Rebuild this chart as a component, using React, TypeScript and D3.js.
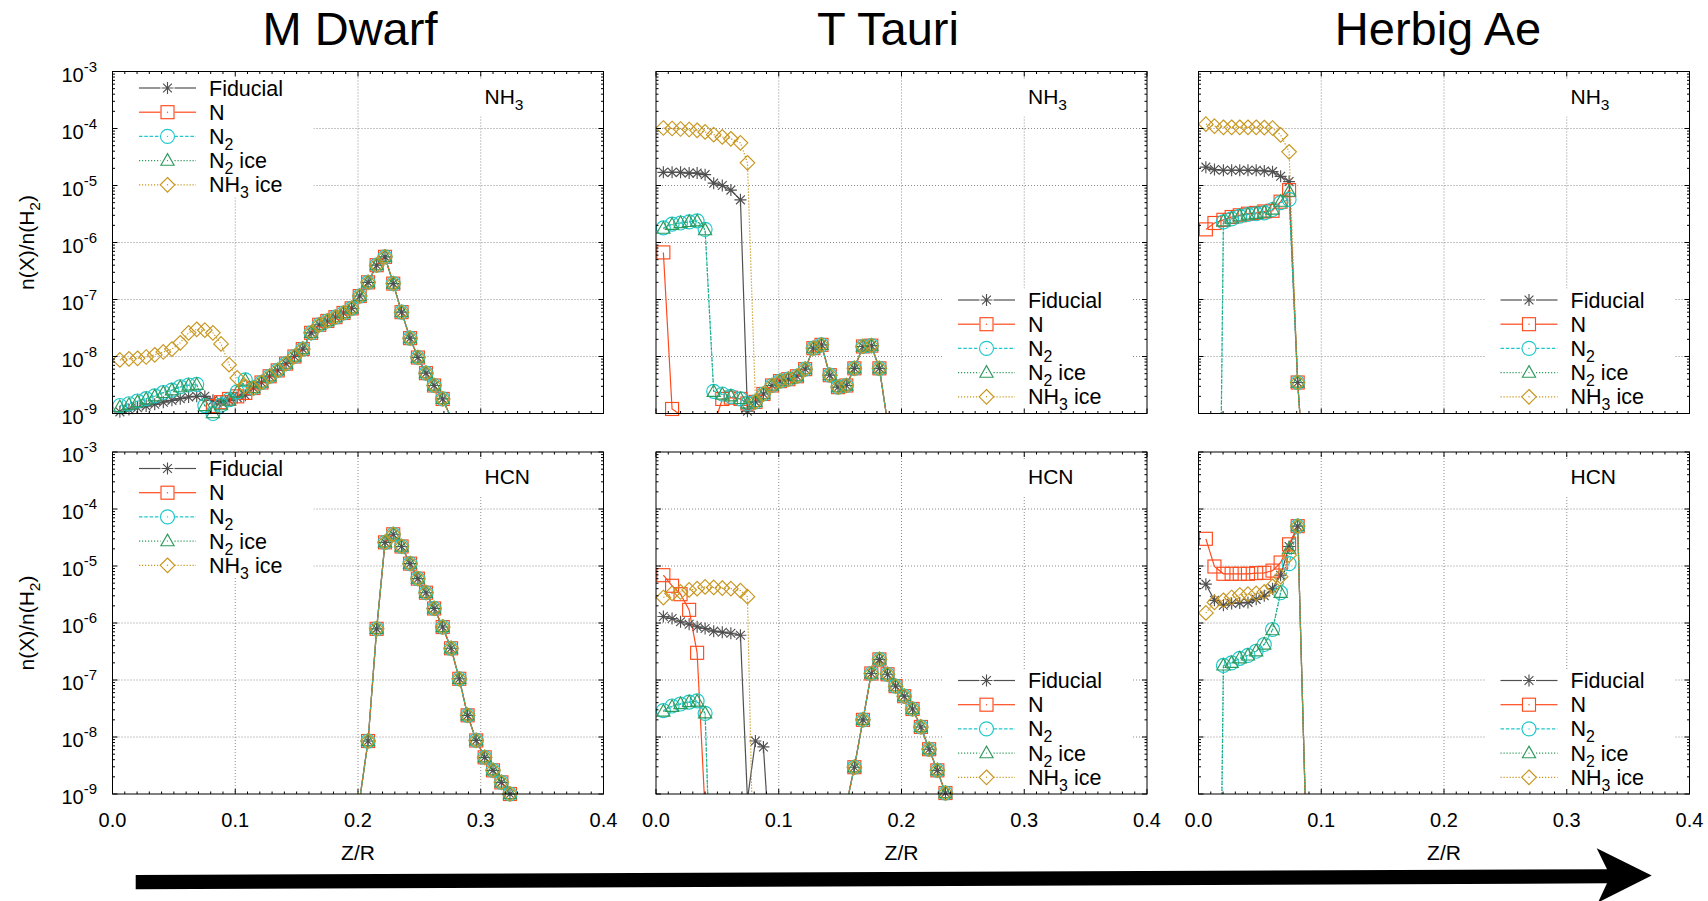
import React from "react";
import * as d3 from "d3";

// ---------------- DATA ----------------
const titles = ["M Dwarf", "T Tauri", "Herbig Ae"];
const seriesNames = ["Fiducial", "N", "N2", "N2 ice", "NH3 ice"];
const xTicks = [0, 0.1, 0.2, 0.3, 0.4];
const xTickLabels = ["0.0", "0.1", "0.2", "0.3", "0.4"];
const yExps = [-3, -4, -5, -6, -7, -8, -9];

// Z/R grids of the three models
const mdZ = [0.006, 0.0134, 0.0204, 0.0274, 0.0344, 0.0414, 0.0484, 0.0552, 0.062, 0.0686, 0.0752, 0.0818, 0.0884, 0.095, 0.1016, 0.1082, 0.1148, 0.1214, 0.128, 0.1346, 0.1414, 0.1482, 0.155, 0.1618, 0.1684, 0.175, 0.1816, 0.1882, 0.1948, 0.2014, 0.2082, 0.2152, 0.222, 0.2287, 0.2355, 0.2424, 0.2488, 0.2554, 0.262, 0.269, 0.2758, 0.2825, 0.2893, 0.2963, 0.3032, 0.31, 0.3168, 0.3238, 0.3305];
const ttZ = [0.006, 0.0131, 0.02, 0.027, 0.0335, 0.04, 0.047, 0.054, 0.061, 0.0688, 0.0745, 0.081, 0.0875, 0.0945, 0.101, 0.1078, 0.1148, 0.1215, 0.1282, 0.1348, 0.1416, 0.1483, 0.155, 0.1616, 0.1686, 0.1754, 0.182, 0.1886, 0.1952, 0.2022, 0.209, 0.2158, 0.2225, 0.2292, 0.2358, 0.2425];
const haZ = [0.006, 0.013, 0.0203, 0.027, 0.0336, 0.0403, 0.047, 0.0536, 0.0603, 0.0669, 0.0738, 0.0808, 0.0875];

// M Dwarf NH3 (first 16 points per series, then shared curve)
const mdNH3Common = [2.8e-9, 3.5e-9, 4.5e-9, 5.7e-9, 7.5e-9, 1.0e-8, 1.35e-8, 2.6e-8, 3.6e-8, 4.2e-8, 4.9e-8, 5.8e-8, 7.0e-8, 1.15e-7, 2.0e-7, 4.0e-7, 5.6e-7, 1.9e-7, 6.0e-8, 2.1e-8, 9.6e-9, 5.1e-9, 3.1e-9, 1.8e-9, 8.3e-10];
const mdNH3FidPre = [1.07e-9, 1.17e-9, 1.26e-9, 1.35e-9, 1.45e-9, 1.58e-9, 1.7e-9, 1.82e-9, 1.95e-9, 2.0e-9, 2.0e-9, 1.7e-9, 1.6e-9, 1.7e-9, 1.9e-9, 2.1e-9];
const mdNH3NPre = [null, null, null, null, null, null, null, null, null, null, 7e-10, 1.35e-9, 1.58e-9, 1.8e-9, 2.0e-9, 2.3e-9];
const mdNH3N2Pre = [1.38e-9, 1.48e-9, 1.66e-9, 1.82e-9, 2.04e-9, 2.34e-9, 2.57e-9, 2.95e-9, 3.16e-9, 3.24e-9, 1.38e-9, 1.0e-9, 1.4e-9, 1.74e-9, 2.4e-9, 3.9e-9];
const mdNH3N2icePre = [1.3e-9, 1.42e-9, 1.6e-9, 1.78e-9, 2.0e-9, 2.3e-9, 2.55e-9, 2.9e-9, 3.1e-9, 3.2e-9, 1.35e-9, 1.02e-9, 1.4e-9, 1.7e-9, 2.35e-9, 3.8e-9];
const mdNH3IcePre = [8.7e-9, 9.1e-9, 9.3e-9, 9.8e-9, 1.07e-8, 1.2e-8, 1.35e-8, 1.74e-8, 2.6e-8, 3.0e-8, 2.9e-8, 2.6e-8, 1.66e-8, 7.2e-9, 4.2e-9, 3.0e-9];

// M Dwarf HCN (all five runs coincide), starting at grid index 29
const mdHCNStart = 29;
const mdHCNPeak = [8e-10, 8.5e-9, 7.9e-7, 2.6e-5, 3.6e-5, 2.2e-5, 1.1e-5, 6.0e-6, 3.4e-6, 1.8e-6, 8.5e-7, 3.6e-7, 1.05e-7, 2.4e-8, 8.7e-9, 4.4e-9, 2.6e-9, 1.6e-9, 1.0e-9, 6e-10];

// T Tauri NH3 (first 11 points per series, then shared curve)
const ttNH3Common = [1.6e-9, 2.2e-9, 3.1e-9, 3.7e-9, 4.0e-9, 4.5e-9, 6.0e-9, 1.4e-8, 1.6e-8, 4.7e-9, 2.9e-9, 3.1e-9, 6.2e-9, 1.5e-8, 1.55e-8, 6.2e-9, 7e-10];
const ttNH3FidPre = [1.7e-5, 1.7e-5, 1.7e-5, 1.65e-5, 1.65e-5, 1.55e-5, 1.1e-5, 1.0e-5, 8.3e-6, 5.6e-6, 1.1e-9];
const ttNH3NPre = [6.7e-7, 1.2e-9, 9.5e-10, 5e-10, 4e-10, 4e-10, 6e-10, 1.8e-9, 1.9e-9, 1.8e-9, 1.5e-9];
const ttNH3N2Pre = [1.8e-6, 2.1e-6, 2.2e-6, 2.3e-6, 2.4e-6, 1.7e-6, 2.45e-9, 2.2e-9, 2.0e-9, 1.8e-9, 1.5e-9];
const ttNH3N2icePre = [1.75e-6, 2.05e-6, 2.2e-6, 2.3e-6, 2.35e-6, 1.65e-6, 2.4e-9, 2.15e-9, 2.0e-9, 1.8e-9, 1.5e-9];
const ttNH3IcePre = [1.02e-4, 1.0e-4, 9.8e-5, 9.6e-5, 9.3e-5, 8.7e-5, 7.8e-5, 7.1e-5, 6.6e-5, 5.6e-5, 2.5e-5];

// T Tauri HCN (inner points per series, shared curve from grid index 22)
const ttHCNCommonStart = 22;
const ttHCNCommon = [6.3e-10, 2.95e-9, 2.0e-8, 1.3e-7, 2.3e-7, 1.26e-7, 7.8e-8, 5.2e-8, 3.1e-8, 1.5e-8, 6.1e-9, 2.6e-9, 1.04e-9, 3e-10];
const ttHCNFidPre = [1.3e-6, 1.2e-6, 1.05e-6, 9.5e-7, 8.6e-7, 8.0e-7, 7.2e-7, 6.9e-7, 6.6e-7, 6.1e-7, 8e-10, 8.5e-9, 6.7e-9, 3e-11];
const ttHCNNPre = [6.9e-6, 4.5e-6, 3.2e-6, 1.7e-6, 3.0e-7, 5e-10];
const ttHCNN2Pre = [2.9e-8, 3.5e-8, 3.8e-8, 4.1e-8, 4.3e-8, 2.6e-8, 5e-13];
const ttHCNN2icePre = [2.8e-8, 3.4e-8, 3.8e-8, 4.1e-8, 4.2e-8, 2.6e-8, 5e-13];
const ttHCNIcePre = [2.8e-6, 3.3e-6, 3.5e-6, 3.8e-6, 4.0e-6, 4.3e-6, 4.2e-6, 4.1e-6, 4.0e-6, 3.7e-6, 2.9e-6, 1e-12];

// Herbig Ae NH3
const haNH3Fid = [2.1e-5, 1.9e-5, 1.85e-5, 1.85e-5, 1.85e-5, 1.85e-5, 1.85e-5, 1.8e-5, 1.75e-5, 1.45e-5, 1.17e-5, 3.5e-9, 3e-11];
const haNH3N = [1.7e-6, 2.2e-6, 2.5e-6, 2.8e-6, 3.0e-6, 3.2e-6, 3.3e-6, 3.5e-6, 3.6e-6, 5.2e-6, 8.3e-6, 3.5e-9, 3e-11];
const haNH3N2 = [null, 1e-20, 2.3e-6, 2.6e-6, 2.9e-6, 3.1e-6, 3.2e-6, 3.3e-6, 3.8e-6, 5.0e-6, 5.7e-6, 3.5e-9, 3e-11];
const haNH3N2ice = [null, 1e-20, 2.35e-6, 2.65e-6, 2.9e-6, 3.1e-6, 3.2e-6, 3.35e-6, 3.8e-6, 5.2e-6, 7.8e-6, 3.5e-9, 3e-11];
const haNH3Ice = [1.19e-4, 1.1e-4, 1.05e-4, 1.05e-4, 1.05e-4, 1.05e-4, 1.05e-4, 1.04e-4, 1.02e-4, 7.7e-5, 3.9e-5, 3.5e-9, 3e-11];

// Herbig Ae HCN
const haHCNFid = [4.8e-6, 2.5e-6, 2.05e-6, 2.2e-6, 2.25e-6, 2.3e-6, 2.6e-6, 3.0e-6, 4.0e-6, 6.9e-6, 2.2e-5, 5e-5, 3e-10];
const haHCNN = [3.0e-5, 9.8e-6, 7.3e-6, 7.3e-6, 7.3e-6, 7.3e-6, 7.5e-6, 7.6e-6, 8.3e-6, 1.15e-5, 2.4e-5, 5e-5, 3e-10];
const haHCNN2 = [null, 1e-20, 1.8e-7, 2.0e-7, 2.4e-7, 2.7e-7, 3.2e-7, 4.2e-7, 7.7e-7, 3.4e-6, 1.1e-5, 5e-5, 3e-10];
const haHCNN2ice = [null, 1e-20, 1.8e-7, 2.0e-7, 2.4e-7, 2.7e-7, 3.2e-7, 4.2e-7, 7.5e-7, 3.4e-6, 2.0e-5, 5e-5, 3e-10];
const haHCNIce = [1.5e-6, 2.3e-6, 2.5e-6, 2.8e-6, 3.1e-6, 3.2e-6, 3.3e-6, 3.5e-6, 4.4e-6, 6.5e-6, 1.55e-5, 5e-5, 3e-10];

// ---------------- BUILD ----------------
type V = number | null;
const gap = (n: number): V[] => new Array(n).fill(null);
const at = (start: number, vals: V[]): V[] => gap(start).concat(vals);

const mdHCN = at(mdHCNStart, mdHCNPeak);
const ttHCNTail = (pre: V[]) => pre.concat(gap(ttHCNCommonStart - pre.length), ttHCNCommon);

const FONT = "'Liberation Sans', Arial, Helvetica, sans-serif";
const W = 1708, H = 901;
const PW = 491, PH = 342;
const COLS = [112.5, 656, 1198.5];
const ROWS = [71.5, 452];

const styles = [
  { color: "#505050", dash: undefined as string | undefined, marker: "star" },
  { color: "#ff4a1c", dash: undefined, marker: "square" },
  { color: "#1ec8cc", dash: "3.5,1.8", marker: "circle" },
  { color: "#2e9a5c", dash: "1.2,1.8", marker: "triangle" },
  { color: "#c8961e", dash: "1.2,1.8", marker: "diamond" },
];

type Part = [string, boolean];
const chemParts: Record<string, Part[]> = {
  "Fiducial": [["Fiducial", false]],
  "N": [["N", false]],
  "N2": [["N", false], ["2", true]],
  "N2 ice": [["N", false], ["2", true], [" ice", false]],
  "NH3 ice": [["NH", false], ["3", true], [" ice", false]],
  "NH3": [["NH", false], ["3", true]],
  "HCN": [["HCN", false]],
  "yl": [["n(X)/n(H", false], ["2", true], [")", false]],
};

const panels = [
  { col: 0, row: 0, z: mdZ, species: "NH3", legend: "left",
    series: [mdNH3FidPre.concat(mdNH3Common), (mdNH3NPre as V[]).concat(mdNH3Common), mdNH3N2Pre.concat(mdNH3Common), mdNH3N2icePre.concat(mdNH3Common), mdNH3IcePre.concat(mdNH3Common)] },
  { col: 1, row: 0, z: ttZ, species: "NH3", legend: "right",
    series: [ttNH3FidPre.concat(ttNH3Common), ttNH3NPre.concat(ttNH3Common), ttNH3N2Pre.concat(ttNH3Common), ttNH3N2icePre.concat(ttNH3Common), ttNH3IcePre.concat(ttNH3Common)] },
  { col: 2, row: 0, z: haZ, species: "NH3", legend: "right",
    series: [haNH3Fid, haNH3N, haNH3N2, haNH3N2ice, haNH3Ice] },
  { col: 0, row: 1, z: mdZ, species: "HCN", legend: "left",
    series: [mdHCN, mdHCN, mdHCN, mdHCN, mdHCN] },
  { col: 1, row: 1, z: ttZ, species: "HCN", legend: "right",
    series: [ttHCNTail(ttHCNFidPre), ttHCNTail(ttHCNNPre), ttHCNTail(ttHCNN2Pre), ttHCNTail(ttHCNN2icePre), ttHCNTail(ttHCNIcePre)] },
  { col: 2, row: 1, z: haZ, species: "HCN", legend: "right",
    series: [haHCNFid, haHCNN, haHCNN2, haHCNN2ice, haHCNIce] },
];

// ---------------- DRAW ----------------
function Chem({ x, y, name, size, anchor, transform }: any) {
  const parts = chemParts[name] || [[name, false]];
  const sub = Math.round(size * 0.27);
  const out: any[] = [];
  let down = false;
  parts.forEach((p: Part, i: number) => {
    let dy = 0;
    if (p[1] && !down) { dy = sub; down = true; }
    else if (!p[1] && down) { dy = -sub; down = false; }
    out.push(<tspan key={i} dy={dy || undefined} fontSize={p[1] ? size * 0.74 : size}>{p[0]}</tspan>);
  });
  return <text x={x} y={y} fontSize={size} textAnchor={anchor} transform={transform} fontFamily={FONT} fill="#000">{out}</text>;
}

function Marker({ type, x, y, color }: any) {
  const c = { stroke: color, fill: "none", strokeWidth: 1.15 };
  if (type === "star")
    return <path {...c} d={`M${x - 6},${y}H${x + 6}M${x},${y - 6}V${y + 6}M${x - 4.4},${y - 4.4}L${x + 4.4},${y + 4.4}M${x - 4.4},${y + 4.4}L${x + 4.4},${y - 4.4}`} />;
  if (type === "square") return <rect {...c} x={x - 6.5} y={y - 6.5} width={13} height={13} />;
  if (type === "circle") return <circle {...c} cx={x} cy={y} r={7} />;
  if (type === "triangle") return <path {...c} d={`M${x},${y - 7}L${x + 6.6},${y + 4.6}L${x - 6.6},${y + 4.6}Z`} />;
  return <path {...c} d={`M${x},${y - 7.3}L${x + 7.3},${y}L${x},${y + 7.3}L${x - 7.3},${y}Z`} />;
}

function Panel({ p, idx }: any) {
  const x0 = COLS[p.col], y0 = ROWS[p.row];
  const xs = d3.scaleLinear().domain([0, 0.4]).range([x0, x0 + PW]);
  const ys = d3.scaleLog().domain([1e-9, 1e-3]).range([y0 + PH, y0]);
  const clipId = `clip${idx}`;
  const grid = "#8c8c8c";

  const xMinor: number[] = [];
  for (let i = 1; i < 40; i++) if (i % 10 !== 0) xMinor.push(i / 100);
  const yMinor: number[] = [];
  for (let e = -9; e < -3; e++) for (let m = 2; m <= 9; m++) yMinor.push(m * Math.pow(10, e));
  const yMajor = yExps.map((e) => Math.pow(10, e));

  const line = d3.line<any>().defined((d) => d.v != null).x((d) => xs(d.z)).y((d) => ys(d.v));

  const lx = p.legend === "left" ? x0 + 26.5 : x0 + 302;
  const ly = p.legend === "left" ? y0 + 16.5 : y0 + 228.5;
  const rowH = 24.2;

  return (
    <g>
      <defs>
        <clipPath id={clipId}><rect x={x0} y={y0} width={PW} height={PH} /></clipPath>
      </defs>
      {/* grid */}
      {[0.1, 0.2, 0.3].map((t) => (
        <line key={"gx" + t} x1={xs(t)} x2={xs(t)} y1={y0} y2={y0 + PH} stroke={grid} strokeWidth={1} strokeDasharray="1,2" />
      ))}
      {yMajor.slice(1, -1).map((t) => (
        <line key={"gy" + t} x1={x0} x2={x0 + PW} y1={ys(t)} y2={ys(t)} stroke={grid} strokeWidth={1} strokeDasharray="1,2" />
      ))}
      {/* opaque boxes */}
      <rect x={x0 + 365} y={y0 + 8} width={58} height={37} fill="#fff" />
      {p.legend === "left"
        ? <rect x={x0 + 1} y={y0 + 1} width={200} height={125} fill="#fff" />
        : <rect x={x0 + 287} y={y0 + 217} width={189} height={PH - 218} fill="#fff" />}
      {/* data */}
      <g clipPath={`url(#${clipId})`}>
        {p.series.map((vals: V[], si: number) => {
          const pts = p.z.map((z: number, i: number) => ({ z, v: i < vals.length ? vals[i] : null }));
          return <path key={"l" + si} d={line(pts) || ""} fill="none" stroke={styles[si].color} strokeWidth={1.2} strokeDasharray={styles[si].dash} />;
        })}
      </g>
      {p.series.map((vals: V[], si: number) => (
        <g key={"m" + si}>
          {p.z.map((z: number, i: number) => {
            const v = i < vals.length ? vals[i] : null;
            if (v == null || v < 0.97e-9 || v > 1e-3) return null;
            return <Marker key={i} type={styles[si].marker} x={xs(z)} y={ys(v)} color={styles[si].color} />;
          })}
        </g>
      ))}
      {/* species label */}
      <Chem x={x0 + 372} y={y0 + 32} name={p.species} size={21} anchor="start" />
      {/* legend */}
      {seriesNames.map((nm, si) => {
        const cy = ly + si * rowH;
        const sx = lx + 28.5;
        return (
          <g key={"lg" + si}>
            <line x1={lx} x2={sx - 7} y1={cy} y2={cy} stroke={styles[si].color} strokeWidth={1.2} strokeDasharray={styles[si].dash} />
            <line x1={sx + 7} x2={lx + 57} y1={cy} y2={cy} stroke={styles[si].color} strokeWidth={1.2} strokeDasharray={styles[si].dash} />
            <Marker type={styles[si].marker} x={sx} y={cy} color={styles[si].color} />
            <circle cx={sx} cy={cy} r={0.7} fill={styles[si].color} />
            <Chem x={lx + 70} y={cy + 7.5} name={nm} size={21.5} anchor="start" />
          </g>
        );
      })}
      {/* border */}
      <rect x={x0} y={y0} width={PW} height={PH} fill="none" stroke="#000" strokeWidth={1} />
      {/* ticks */}
      {xTicks.map((t) => (
        <g key={"xt" + t}>
          <line x1={xs(t)} x2={xs(t)} y1={y0 + PH} y2={y0 + PH - 5} stroke="#000" />
          <line x1={xs(t)} x2={xs(t)} y1={y0} y2={y0 + 5} stroke="#000" />
        </g>
      ))}
      {xMinor.map((t) => (
        <g key={"xm" + t}>
          <line x1={xs(t)} x2={xs(t)} y1={y0 + PH} y2={y0 + PH - 2.5} stroke="#000" />
          <line x1={xs(t)} x2={xs(t)} y1={y0} y2={y0 + 2.5} stroke="#000" />
        </g>
      ))}
      {yMajor.map((t) => (
        <g key={"yt" + t}>
          <line x1={x0} x2={x0 + 5} y1={ys(t)} y2={ys(t)} stroke="#000" />
          <line x1={x0 + PW} x2={x0 + PW - 5} y1={ys(t)} y2={ys(t)} stroke="#000" />
        </g>
      ))}
      {yMinor.map((t) => (
        <g key={"ym" + t}>
          <line x1={x0} x2={x0 + 2.5} y1={ys(t)} y2={ys(t)} stroke="#000" />
          <line x1={x0 + PW} x2={x0 + PW - 2.5} y1={ys(t)} y2={ys(t)} stroke="#000" />
        </g>
      ))}
      {/* y tick labels */}
      {p.col === 0 && yExps.map((e) => (
        <text key={"yl" + e} x={97} y={ys(Math.pow(10, e)) + 10} textAnchor="end" fontFamily={FONT} fontSize={20} fill="#000">
          <tspan>10</tspan>
          <tspan dy={-9.7} fontSize={15}>{String(e)}</tspan>
        </text>
      ))}
      {p.col === 0 && (
        <Chem x={0} y={0} name="yl" size={21} anchor="middle" transform={`translate(34,${y0 + PH / 2}) rotate(-90)`} />
      )}
      {/* x tick labels */}
      {p.row === 1 && xTicks.map((t, i) => (
        <text key={"xl" + t} x={xs(t)} y={y0 + PH + 33} textAnchor="middle" fontFamily={FONT} fontSize={20} fill="#000">{xTickLabels[i]}</text>
      ))}
      {p.row === 1 && (
        <text x={x0 + PW / 2} y={860} textAnchor="middle" fontFamily={FONT} fontSize={21} fill="#000">Z/R</text>
      )}
    </g>
  );
}

const titleX = [350, 888, 1438];

export default function App() {
  return (
    <svg width={W} height={H} viewBox={`0 0 ${W} ${H}`} style={{ position: "absolute", left: 0, top: 0, display: "block", background: "#fff" }}>
      <rect x={0} y={0} width={W} height={H} fill="#fff" />
      {titles.map((t, i) => (
        <text key={t} x={titleX[i]} y={45} textAnchor="middle" fontFamily={FONT} fontSize={47} fill="#000">{t}</text>
      ))}
      {panels.map((p, i) => <Panel key={i} p={p} idx={i} />)}
      <path d="M135.7,875 L1607,869.3 L1596.7,848.3 L1651.7,875.5 L1598,902.5 L1607,883.3 L135.7,889.3 Z" fill="#000" />
    </svg>
  );
}
